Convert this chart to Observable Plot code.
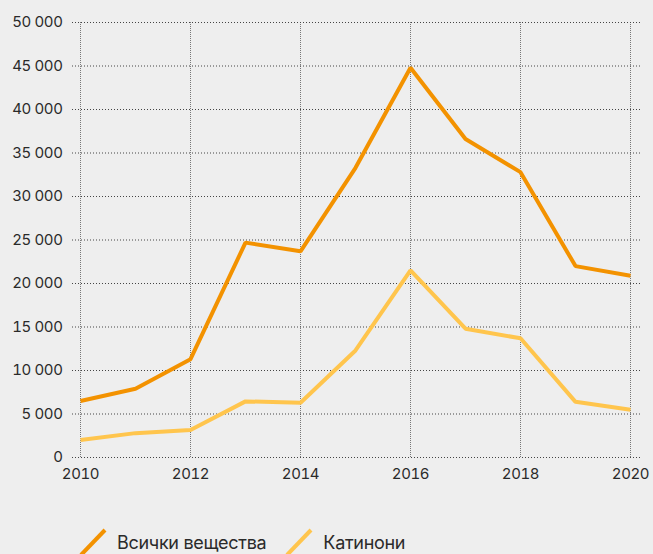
<!DOCTYPE html>
<html>
<head>
<meta charset="utf-8">
<script src="https://cdn.jsdelivr.net/npm/d3@7"></script>
<script src="https://cdn.jsdelivr.net/npm/@observablehq/plot@0.6"></script>
<style>
  html, body { margin: 0; padding: 0; background: #eeeeee; }
  body { width: 653px; height: 554px; overflow: hidden; font-family: Inter, Roboto, sans-serif; }
  #legend { display: flex; align-items: center; margin-left: 79px; margin-top: 31px; font-size: 18px; color: #2a2a2a; letter-spacing: -0.3px; }
  .item { display: flex; align-items: center; margin-right: 19px; }
  .item svg { margin-right: 10px; }
  svg text { letter-spacing: -0.4px; }
</style>
</head>
<body>
<div id="chart"></div>
<div id="legend"></div>
<script>
const years = [2010, 2011, 2012, 2013, 2014, 2015, 2016, 2017, 2018, 2019, 2020];
const allSubstances = [6500, 7900, 11300, 24700, 23700, 33300, 44800, 36600, 32800, 22000, 20900];
const cathinones = [2000, 2800, 3150, 6450, 6300, 12300, 21500, 14800, 13700, 6400, 5500];
const seriesNames = ["Всички вещества", "Катинони"];
const seriesColors = ["#f39200", "#ffc54d"];
const xTicks = [2010, 2012, 2014, 2016, 2018, 2020];
const yTicks = [0, 5000, 10000, 15000, 20000, 25000, 30000, 35000, 40000, 45000, 50000];

const rows = [];
years.forEach((yr, i) => {
  rows.push({year: yr, value: allSubstances[i], series: seriesNames[0]});
  rows.push({year: yr, value: cathinones[i], series: seriesNames[1]});
});

const fmt = v => d3.format(",")(v).replace(/,/g, " ");
const yearFmt = d => String(d);

const chart = Plot.plot({
  width: 653,
  height: 497,
  marginLeft: 80,
  marginRight: 23,
  marginTop: 22,
  marginBottom: 40,
  style: {background: "#eeeeee", fontFamily: "Inter, Roboto, sans-serif", fontSize: "15px", color: "#2a2a2a"},
  x: {domain: [2010, 2020], ticks: xTicks, tickFormat: yearFmt, label: null, axis: null},
  y: {domain: [0, 50000], ticks: yTicks, tickFormat: fmt, label: null, axis: null},
  color: {domain: seriesNames, range: seriesColors},
  marks: [
    Plot.ruleX(xTicks, {stroke: "#777", strokeWidth: 1, strokeDasharray: "1,1"}),
    Plot.ruleY(yTicks, {stroke: "#444", strokeWidth: 1, strokeDasharray: "1,2", insetLeft: -8, insetRight: -12}),
    Plot.line(rows, {x: "year", y: "value", z: "series", stroke: "series", strokeWidth: 4, strokeLinejoin: "miter", strokeLinecap: "butt"}),
    Plot.axisX({ticks: xTicks, tickFormat: yearFmt, tickSize: 0, tickPadding: 11, fontSize: 15, fill: "#2a2a2a", label: null}),
    Plot.axisY({ticks: yTicks, tickFormat: fmt, tickSize: 0, tickPadding: 18, fontSize: 15, fill: "#2a2a2a", label: null})
  ]
});
document.getElementById("chart").appendChild(chart);

const legend = document.getElementById("legend");
seriesNames.forEach((name, i) => {
  const item = document.createElement("div");
  item.className = "item";
  item.innerHTML = `<svg width="28" height="28"><line x1="2" y1="27" x2="26" y2="2" stroke="${seriesColors[i]}" stroke-width="4"/></svg><span>${name}</span>`;
  legend.appendChild(item);
});
</script>
</body>
</html>
